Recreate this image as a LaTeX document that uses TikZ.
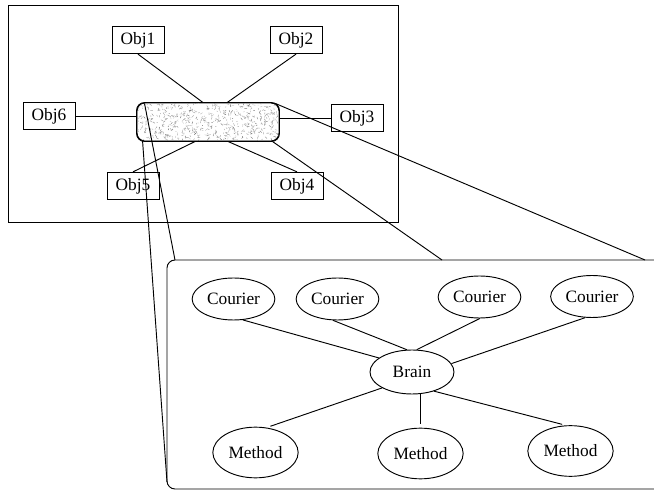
\documentclass[tikz,border=0pt]{standalone}
\usepackage{fontspec}
\setmainfont{Liberation Serif}
\usetikzlibrary{shapes.geometric,calc}
\begin{document}
\begin{tikzpicture}[x=0.75pt,y=-0.75pt,line width=0.7pt,
  objbox/.style={draw,rectangle,inner sep=0pt,minimum width=39pt,minimum height=20.5pt,
    font=\fontsize{13}{15}\selectfont},
  oval/.style={draw,ellipse,inner sep=0pt,minimum width=62pt,minimum height=31.5pt,
    font=\fontsize{13}{15}\selectfont},
  brainoval/.style={oval,minimum width=63pt,minimum height=33pt},
  methodoval/.style={oval,minimum width=64pt,minimum height=38pt},
  hubbox/.style={draw,rectangle,rounded corners=6pt,inner sep=0pt,
    minimum width=106.5pt,minimum height=28.5pt},
  speck/.style={line width=0.3pt}]
\useasboundingbox (0,0) rectangle (654,491);

% outer frame of the object system
\draw (8,5) rectangle (398,222);

% objects
\node[objbox] (obj1) at (138,40) {Obj1};
\node[objbox] (obj2) at (296,40) {Obj2};
\node[objbox] (obj6) at (49,116) {Obj6};
\node[objbox] (obj3) at (357,118) {Obj3};
\node[objbox] (obj5) at (133,186) {Obj5};
\node[objbox] (obj4) at (297,186) {Obj4};

% central hub with speckled fill
\node[hubbox] (hub) at (208,122) {};
\begin{scope}
  \clip[rounded corners=6pt] (hub.south west) rectangle (hub.north east);
  \pgfmathsetseed{42}
  \foreach \k in {1,...,600}{
    \pgfmathsetmacro{\xx}{137+142*rnd}
    \pgfmathsetmacro{\yy}{103+38*rnd}
    \pgfmathsetmacro{\aa}{360*rnd}
    \pgfmathsetmacro{\ll}{0.8+2.2*rnd}
    \pgfmathsetmacro{\gg}{20+40*rnd}
    \draw[speck,black!\gg] (\xx,\yy) -- ++(\aa:\ll);
  }
\end{scope}
\draw[rounded corners=6pt] (hub.south west) rectangle (hub.north east);

% links between the hub and the objects
\draw ($(hub.north west)!0.465!(hub.north east)$) -- (obj1.south);
\draw ($(hub.north west)!0.634!(hub.north east)$) -- (obj2.south);
\draw (obj6.east) -- (obj6.east -| hub.west);
\draw (obj3.west) -- (obj3.west -| hub.east);
\draw ($(hub.south west)!0.41!(hub.south east)$) -- (obj5.north);
\draw ($(hub.south west)!0.64!(hub.south east)$) -- (obj4.north);

% enlarged view of the hub
\draw[rounded corners=6pt] (690,260) -- (167,260) -- (167,489) -- (690,489);
\coordinate (pA) at (167,482);
\coordinate (pB) at (175,260);
\coordinate (pC) at (645,260);
\coordinate (pD) at (442,260);
\draw ($(hub.north west)+(8,1)$) -- (pB);
\draw ($(hub.south west)+(6,-1)$) -- (pA);
\draw ($(hub.north east)+(-4,1)$) -- (pC);
\draw ($(hub.south east)+(-7,0)$) -- (pD);

% contents of the hub
\node[oval] (c1) at (233.5,299) {Courier};
\node[oval] (c2) at (337.5,299) {Courier};
\node[oval] (c3) at (479.5,297) {Courier};
\node[oval] (c4) at (592,296.5) {Courier};
\node[brainoval] (brain) at (412,372) {Brain};
\node[methodoval] (m1) at (255.5,452.5) {Method};
\node[methodoval] (m2) at (420.5,453.5) {Method};
\node[methodoval] (m3) at (570.5,451) {Method};

\draw (c1.-66) -- (brain.157);
\draw (c2.-102) -- (brain.103);
\draw (c3.-89) -- (brain.78);
\draw (c4.-108) -- (brain.12);
\draw[shorten >=3pt] (brain.-152) -- (m1.66);
\draw[shorten >=3pt] (m2.north |- brain.south) -- (m2.north);
\draw[shorten >=3pt] (brain.-41) -- (m3.100);
\end{tikzpicture}
\end{document}
